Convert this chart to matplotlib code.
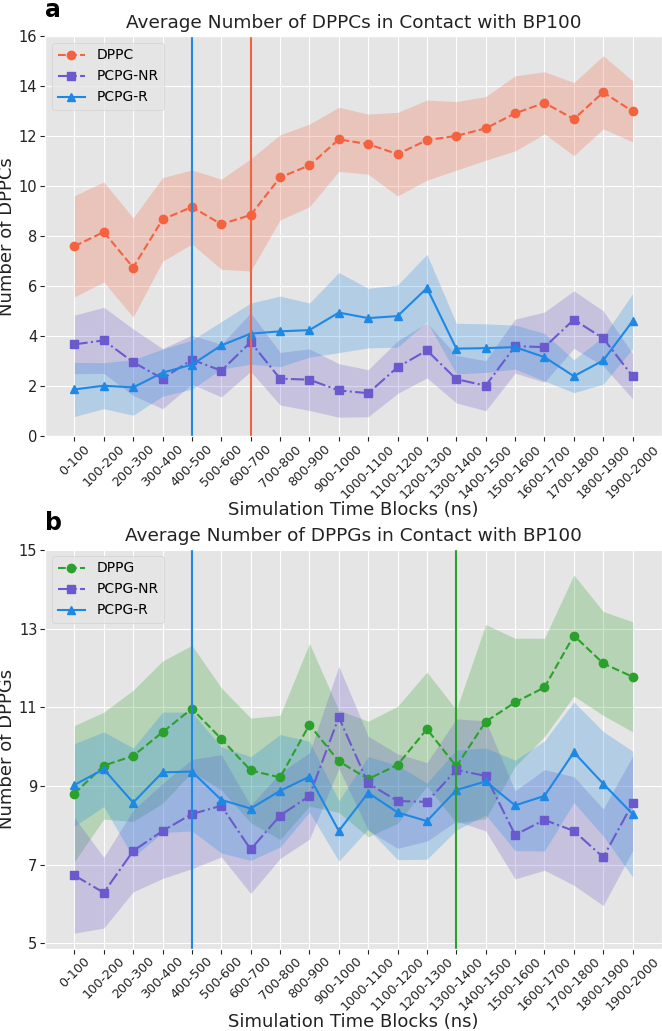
import matplotlib
matplotlib.use("Agg")
import matplotlib.pyplot as plt
import numpy as np

plt.style.use("ggplot")

blocks = ["0-100", "100-200", "200-300", "300-400", "400-500", "500-600", "600-700",
          "700-800", "800-900", "900-1000", "1000-1100", "1100-1200", "1200-1300",
          "1300-1400", "1400-1500", "1500-1600", "1600-1700", "1700-1800",
          "1800-1900", "1900-2000"]

# Panel a (DPPC system)
dppc_mean = [7.60, 8.17, 6.75, 8.67, 9.17, 8.48, 8.85, 10.35, 10.83, 11.87,
             11.68, 11.28, 11.84, 12.01, 12.31, 12.91, 13.33, 12.68, 13.75, 12.99]
dppc_std = [2.02, 2.00, 1.98, 1.67, 1.48, 1.80, 2.24, 1.70, 1.65, 1.28,
            1.20, 1.67, 1.60, 1.37, 1.27, 1.50, 1.24, 1.46, 1.46, 1.22]
a_nr_mean = [3.68, 3.84, 2.97, 2.31, 3.07, 2.63, 3.77, 2.31, 2.27, 1.84,
             1.73, 2.77, 3.44, 2.29, 2.03, 3.61, 3.57, 4.67, 3.92, 2.41]
a_nr_std = [1.17, 1.32, 1.33, 1.20, 0.98, 1.05, 1.17, 1.05, 1.23, 1.07,
            0.94, 1.05, 1.10, 0.95, 1.00, 1.08, 1.40, 1.15, 1.10, 0.90]
a_r_mean = [1.88, 2.03, 1.96, 2.55, 2.87, 3.64, 4.11, 4.20, 4.25, 4.95,
            4.73, 4.81, 5.93, 3.51, 3.53, 3.57, 3.17, 2.41, 3.04, 4.61]
a_r_std = [1.08, 0.92, 1.11, 0.94, 0.98, 0.95, 1.22, 1.41, 1.08, 1.60,
           1.19, 1.24, 1.35, 1.01, 0.97, 0.88, 0.95, 0.66, 0.95, 1.10]
a_vlines = [4, 6]

# Panel b (DPPG system)
dppg_mean = [8.81, 9.52, 9.77, 10.37, 10.97, 10.20, 9.40, 9.22, 10.56, 9.63,
             9.18, 9.54, 10.45, 9.50, 10.64, 11.13, 11.51, 12.83, 12.12, 11.78]
dppg_std = [1.73, 1.36, 1.67, 1.81, 1.61, 1.30, 1.33, 1.58, 2.07, 1.30,
            1.47, 1.49, 1.45, 1.44, 2.47, 1.63, 1.25, 1.54, 1.32, 1.40]
b_nr_mean = [6.73, 6.29, 7.35, 7.86, 8.29, 8.50, 7.39, 8.25, 8.75, 10.75,
             9.07, 8.62, 8.60, 9.41, 9.26, 7.76, 8.14, 7.86, 7.19, 8.56]
b_nr_std = [1.47, 0.90, 1.04, 1.21, 1.39, 1.30, 1.12, 1.09, 1.10, 1.30,
            1.20, 1.20, 1.00, 1.30, 1.40, 1.12, 1.28, 1.38, 1.23, 1.20]
b_r_mean = [9.03, 9.43, 8.58, 9.35, 9.37, 8.65, 8.43, 8.88, 9.24, 7.86,
            8.83, 8.33, 8.11, 8.90, 9.12, 8.51, 8.75, 9.86, 9.06, 8.29]
b_r_std = [1.05, 0.95, 1.39, 1.53, 1.51, 1.35, 1.32, 1.43, 0.90, 0.77,
           0.92, 1.20, 0.97, 1.02, 0.85, 1.15, 1.40, 1.28, 1.33, 1.60]
b_vlines = [4, 13]

C_DPPC = "#f4623f"
C_DPPG = "#2ca02c"
C_NR = "#6a5acd"
C_R = "#1e88e5"

fig = plt.figure(figsize=(6.62, 10.31), dpi=100)
ax1 = fig.add_axes([45/662, 1-436.5/1031, 617/662, 400.5/1031])
ax2 = fig.add_axes([45/662, 1-948.5/1031, 617/662, 399.5/1031])

x = np.arange(len(blocks))

def draw(ax, series, vlines, vcolors, title, ylabel, ylim, yticks, letter, ly):
    for mean, std, color, ls, mk, label in series:
        m = np.array(mean)
        s = np.array(std)
        ax.fill_between(x, m - s, m + s, color=color, alpha=0.25, linewidth=0)
        ax.plot(x, m, linestyle=ls, marker=mk, color=color, label=label,
                linewidth=1.5, markersize=6)
    for v, c in zip(vlines, vcolors):
        ax.axvline(v, color=c, linewidth=1.5)
    ax.set_xlim(-1, 20)
    ax.set_ylim(*ylim)
    ax.set_yticks(yticks)
    ax.set_xticks(x)
    ax.set_xticklabels(blocks, rotation=45, fontsize=9.2, color="#222222")
    ax.tick_params(axis="y", labelsize=10.5, colors="#222222", pad=2)
    ax.tick_params(axis="x", colors="#222222", pad=1)
    ax.set_title(title, fontsize=13.3, color="#222222", pad=6)
    ax.set_ylabel(ylabel, fontsize=13, color="#222222", labelpad=2)
    ax.set_xlabel("Simulation Time Blocks (ns)", fontsize=13, color="#222222",
                  labelpad=0)
    ax.legend(loc="upper left", fontsize=10, frameon=True)
    ax.text(0.0, ly, letter, transform=ax.transAxes, fontsize=17,
            fontweight="bold", ha="left", va="baseline", color="black")

draw(ax1,
     [(dppc_mean, dppc_std, C_DPPC, "--", "o", "DPPC"),
      (a_nr_mean, a_nr_std, C_NR, "-.", "s", "PCPG-NR"),
      (a_r_mean, a_r_std, C_R, "-", "^", "PCPG-R")],
     a_vlines, [C_R, C_DPPC],
     "Average Number of DPPCs in Contact with BP100", "Number of DPPCs",
     (0, 16), [0, 2, 4, 6, 8, 10, 12, 14, 16], "a", 1.048)

draw(ax2,
     [(dppg_mean, dppg_std, C_DPPG, "--", "o", "DPPG"),
      (b_nr_mean, b_nr_std, C_NR, "-.", "s", "PCPG-NR"),
      (b_r_mean, b_r_std, C_R, "-", "^", "PCPG-R")],
     b_vlines, [C_R, C_DPPG],
     "Average Number of DPPGs in Contact with BP100", "Number of DPPGs",
     (4.87, 15.03), [5, 7, 9, 11, 13, 15], "b", 1.048)

fig.savefig("out.png", dpi=100)
